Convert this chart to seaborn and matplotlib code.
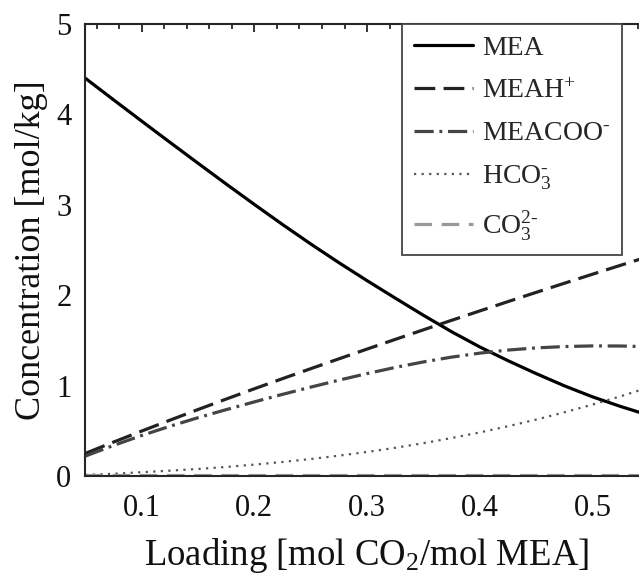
import numpy as np
import pandas as pd
import matplotlib
matplotlib.use("Agg")
import matplotlib.pyplot as plt
import seaborn as sns
from matplotlib.ticker import MultipleLocator

loading = [0.05, 0.075, 0.10, 0.125, 0.15, 0.175, 0.20, 0.225, 0.25, 0.275, 0.30,
           0.325, 0.35, 0.375, 0.40, 0.425, 0.45, 0.475, 0.50, 0.525, 0.55]
mea = [4.400, 4.162, 3.926, 3.692, 3.460, 3.230, 3.004, 2.782, 2.567, 2.360, 2.161,
       1.968, 1.778, 1.596, 1.428, 1.276, 1.133, 0.998, 0.876, 0.769, 0.672]
meah = [0.250, 0.375, 0.497, 0.617, 0.735, 0.851, 0.965, 1.077, 1.187, 1.296, 1.404,
        1.511, 1.617, 1.722, 1.826, 1.929, 2.031, 2.132, 2.232, 2.331, 2.429]
meacoo = [0.220, 0.338, 0.448, 0.550, 0.645, 0.734, 0.820, 0.903, 0.983, 1.060, 1.133,
          1.201, 1.262, 1.315, 1.359, 1.393, 1.417, 1.432, 1.439, 1.438, 1.430]
hco3 = [0.012, 0.025, 0.042, 0.059, 0.078, 0.100, 0.126, 0.155, 0.188, 0.225, 0.266,
        0.312, 0.363, 0.420, 0.482, 0.550, 0.624, 0.704, 0.790, 0.882, 0.980]
co3 = [0.008, 0.008, 0.008, 0.008, 0.008, 0.008, 0.008, 0.008, 0.008, 0.008, 0.008,
       0.008, 0.008, 0.008, 0.008, 0.008, 0.008, 0.008, 0.008, 0.008, 0.008]

labels = ["MEA", "MEAH$^{+}$", "MEACOO$^{\u2010}$", "HCO$_3^{\u2010}$", "CO$_3^{2\u2010}$"]

sns.set_theme(style="white")
plt.rcParams["font.family"] = ["Liberation Serif", "DejaVu Serif"]
plt.rcParams["mathtext.fontset"] = "custom"
plt.rcParams["mathtext.rm"] = "Liberation Serif"
plt.rcParams["mathtext.it"] = "Liberation Serif:italic"
plt.rcParams["mathtext.sf"] = "Liberation Sans"
plt.rcParams["mathtext.default"] = "rm"

fig = plt.figure(figsize=(6.39, 5.78), dpi=100)
ax = fig.add_axes([85.3 / 639, 102 / 578, 563.5 / 639, 452 / 578])

df = pd.DataFrame({"loading": loading})
styles = [
    (mea, "#000000", 2.3, "-"),
    (meah, "#222222", 2.3, (0, (6.5, 2.6))),
    (meacoo, "#444444", 2.3, (0, (6.0, 1.8, 0.9, 1.8))),
    (hco3, "#555555", 1.6, (0, (1.0, 2.4))),
    (co3, "#999999", 2.3, (0, (5.5, 3.0))),
]
for (vals, col, lw, ls), lab in zip(styles, labels):
    sns.lineplot(x=df["loading"], y=vals, ax=ax, color=col, linewidth=lw,
                 linestyle=ls, label=lab)

ax.set_xlim(0.05, 0.55)
ax.set_ylim(0, 5)
ax.xaxis.set_minor_locator(MultipleLocator(0.02))
ax.yaxis.set_major_locator(MultipleLocator(1))
ax.yaxis.set_minor_locator(MultipleLocator(0.2))
ax.set_xticks([0.1, 0.2, 0.3, 0.4, 0.5])
ax.set_xticklabels(["0.1", "0.2", "0.3", "0.4", "0.5"])
ax.tick_params(which="both", direction="in", top=True, right=True, colors="#262626",
               width=1.3, labelcolor="#111111")
ax.tick_params(which="major", length=6, labelsize=22)
ax.tick_params(axis="x", which="major", pad=13)
ax.tick_params(axis="y", which="major", pad=10)
ax.tick_params(which="minor", length=3.5)
for sp in ax.spines.values():
    sp.set_color("#262626")
    sp.set_linewidth(1.5)

ax.set_xlabel("Loading [mol CO$_2$/mol MEA]", fontsize=26.5, color="#111111", labelpad=9)
ax.set_ylabel("Concentration [mol/kg]", fontsize=26, color="#111111", labelpad=6)

leg = ax.legend(loc="upper left", bbox_to_anchor=(402 / 639, 1 - 24 / 578),
                bbox_transform=fig.transFigure, fontsize=20, frameon=True,
                fancybox=False, handlelength=2.15, handletextpad=0.3,
                labelspacing=0.62, borderpad=0.42, borderaxespad=0)
leg.get_frame().set_edgecolor("#444444")
leg.get_frame().set_linewidth(1.3)
leg.get_frame().set_alpha(1)

fig.savefig("out.png", dpi=100)
